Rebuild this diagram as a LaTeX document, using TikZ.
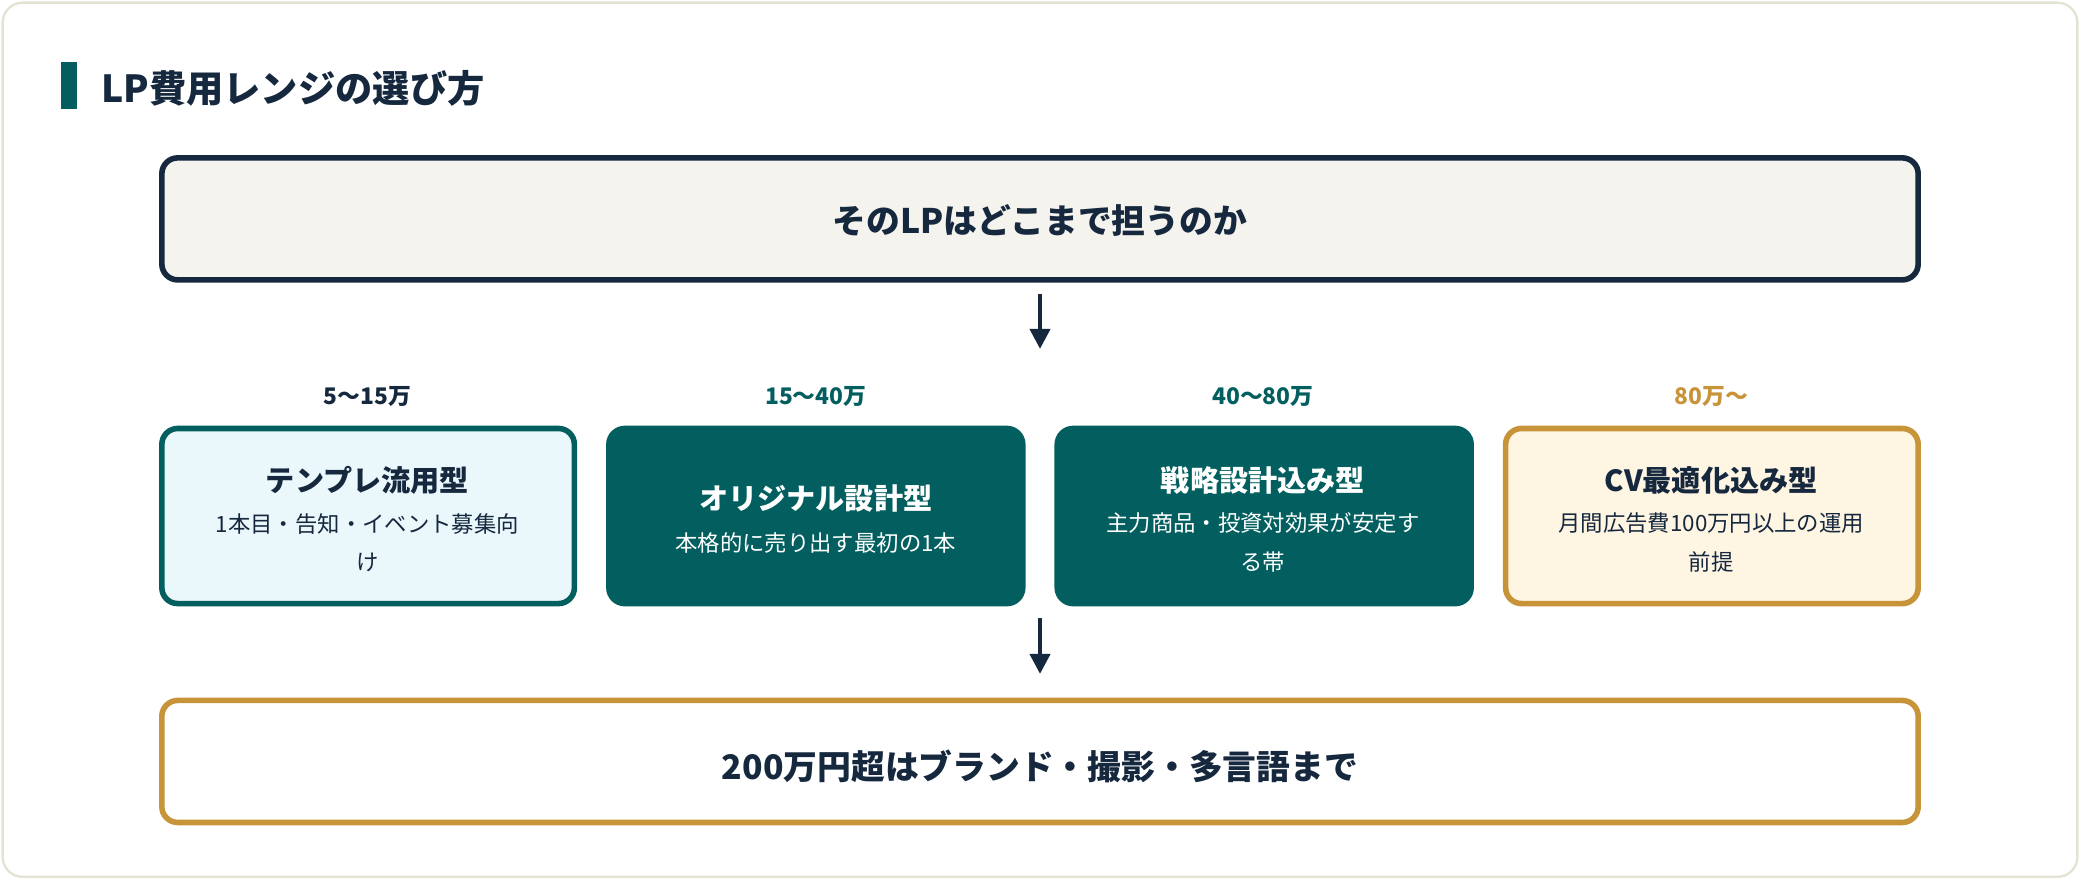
\documentclass[tikz,border=0pt]{standalone}
\usepackage{fontspec}
\setmainfont{Noto Sans CJK JP}
\usetikzlibrary{arrows.meta}
\definecolor{navy}{HTML}{15283E}
\definecolor{teal}{HTML}{035F5F}
\definecolor{gold}{HTML}{C8943A}
\definecolor{frame}{HTML}{E4E2D2}
\definecolor{topfill}{HTML}{F5F3EE}
\definecolor{lblue}{HTML}{EAF8FC}
\definecolor{lgold}{HTML}{FFF5E3}
\begin{document}
\begin{tikzpicture}[x=0.02cm,y=-0.02cm,
  box/.style={draw,line width=2.4pt,rounded corners=0.24cm},
  card/.style={box},
  big/.style={font=\fontsize{14.5}{17}\selectfont\bfseries,text=navy},
  ctitle/.style={font=\fontsize{12.5}{15}\selectfont\bfseries},
  csub/.style={font=\fontsize{9.6}{16.5}\selectfont,align=center},
  rng/.style={font=\fontsize{9.8}{12}\selectfont\bfseries},
  arr/.style={navy,line width=1.8pt,-{Triangle[length=0.3cm,width=0.3cm]}}]
\useasboundingbox (0,0) rectangle (1568,663);
\draw[frame,line width=1pt,fill=white,rounded corners=0.3cm] (2,2) rectangle (1566,661);
\fill[teal] (46,47) rectangle (58,82);
\node[anchor=west,font=\fontsize{16}{19}\selectfont\bfseries,text=navy] (title) at (70,67) {LP費用レンジの選び方};
% top box
\draw[box,navy,fill=topfill] (122,119) rectangle (1446,211);
\node[big] (top) at (784,166) {そのLPはどこまで担うのか};
\coordinate (topb) at (784,222);
\coordinate (mida) at (784,263);
\draw[arr] (topb) -- (mida);
% ranges
\node[rng,text=navy] (r1) at (277,299) {5〜15万};
\node[rng,text=teal] (r2) at (615,299) {15〜40万};
\node[rng,text=teal] (r3) at (952,299) {40〜80万};
\node[rng,text=gold] (r4) at (1290,299) {80万〜};
% cards
\draw[card,teal,fill=lblue] (122,323) rectangle (433,455);
\node[ctitle,text=navy] (c1) at (277,362) {テンプレ流用型};
\node[csub,text=navy] (s1) at (277,409) {1本目・告知・イベント募集向\\け};
\draw[card,teal,fill=teal] (459,323) rectangle (771,455);
\node[ctitle,text=white] (c2) at (615,376) {オリジナル設計型};
\node[csub,text=white] (s2) at (615,409) {本格的に売り出す最初の1本};
\draw[card,teal,fill=teal] (797,323) rectangle (1109,455);
\node[ctitle,text=white] (c3) at (952,362) {戦略設計込み型};
\node[csub,text=white] (s3) at (952,409) {主力商品・投資対効果が安定す\\る帯};
\draw[card,gold,fill=lgold] (1135,323) rectangle (1446,455);
\node[ctitle,text=navy] (c4) at (1290,362) {CV最適化込み型};
\node[csub,text=navy] (s4) at (1290,409) {月間広告費100万円以上の運用\\前提};
\coordinate (midb) at (784,466);
\coordinate (bota) at (784,508);
\draw[arr] (midb) -- (bota);
% bottom
\draw[box,gold,fill=white] (122,528) rectangle (1446,620);
\node[big] (bot) at (784,578) {200万円超はブランド・撮影・多言語まで};
\end{tikzpicture}
\end{document}
